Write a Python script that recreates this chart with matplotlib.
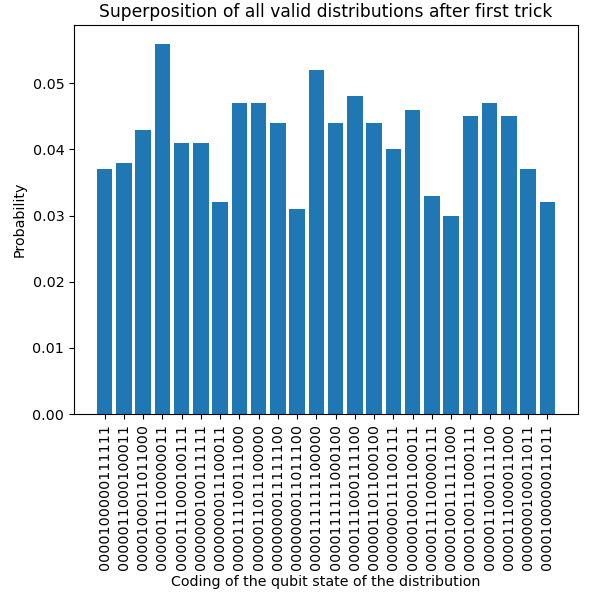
import matplotlib
matplotlib.use('Agg')
import matplotlib.pyplot as plt

states = ['0000100000111111', '0000011000100011', '0000100011011000', '0000011100000011',
          '0000111000100111', '0000000100111111', '0000000011100011', '0000111100111000',
          '0000011011100000', '0000000011111100', '0000000011011100', '0000111111100000',
          '0000111111000100', '0000111000111100', '0000011011000100', '0000000111100111',
          '0000010001100011', '0000111100000111', '0000100111111000', '0000100111000111',
          '0000011000111100', '0000111000011000', '0000000100011011', '0000100000011011']
probs = [0.037, 0.038, 0.043, 0.056, 0.041, 0.041, 0.032, 0.047, 0.047, 0.044, 0.031, 0.052,
         0.044, 0.048, 0.044, 0.040, 0.046, 0.033, 0.030, 0.045, 0.047, 0.045, 0.037, 0.032]

plt.rcParams['font.size'] = 10.25

fig = plt.figure(figsize=(5.94, 5.99), dpi=100)
ax = fig.add_axes([74 / 594, 1 - 414 / 599, (578 - 74) / 594, (414 - 25) / 599])
ax.bar(states, probs)
ax.set_xticks(range(len(states)))
ax.set_xticklabels(states, rotation=90)
ax.set_ylabel('Probability')
ax.set_xlabel('Coding of the qubit state of the distribution')
ax.set_title('Superposition of all valid distributions after first trick')
plt.savefig('out.png', dpi=100)
